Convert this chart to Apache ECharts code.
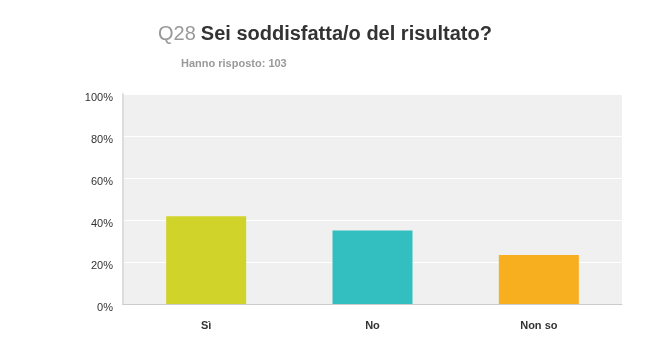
<!DOCTYPE html>
<html><head><meta charset="utf-8">
<script src="https://cdn.jsdelivr.net/npm/echarts@6/dist/echarts.min.js"></script>
<style>html,body{margin:0;padding:0;background:#fff}#c{width:650px;height:360px}</style>
</head><body><div id="c"></div>
<script>
var categories = ['Sì', 'No', 'Non so'];
var values = [41.75, 34.95, 23.30];
var colors = ['#D0D42A', '#33BEBF', '#F7AF1F'];
var yTicks = [0, 20, 40, 60, 80, 100];

var chart = echarts.init(document.getElementById('c'));
chart.setOption({
  animation: false,
  title: [{
    text: '{q|Q28} {t|Sei soddisfatta/o del risultato?}',
    left: 153, top: 19,
    textStyle: {
      rich: {
        q: {fontFamily: 'Liberation Sans', fontSize: 20, color: '#999999', fontWeight: 'normal'},
        t: {fontFamily: 'Liberation Sans', fontSize: 20, color: '#333333', fontWeight: 'bold'}
      }
    }
  }, {
    text: 'Hanno risposto: 103',
    left: 176, top: 53,
    textStyle: {fontFamily: 'Liberation Sans', fontSize: 11, color: '#999999', fontWeight: 'bold'}
  }],
  grid: {left: 123, right: 28, top: 94, bottom: 56, show: true, backgroundColor: '#f0f0f0', borderWidth: 0},
  xAxis: {
    type: 'category', data: categories,
    axisLine: {lineStyle: {color: '#cccccc', width: 1}},
    axisTick: {show: false},
    axisLabel: {fontFamily: 'Liberation Sans', fontSize: 11, fontWeight: 'bold', color: '#333333', margin: 16}
  },
  yAxis: {
    type: 'value', min: 0, max: 100, interval: 20,
    axisLine: {show: true, lineStyle: {color: '#dddddd', width: 2}},
    axisTick: {show: false},
    splitLine: {lineStyle: {color: '#ffffff', width: 1}},
    axisLabel: {fontFamily: 'Liberation Sans', fontSize: 11, color: '#333333', margin: 10,
      verticalAlign: 'top', lineHeight: 8,
      formatter: function (v) { return yTicks.indexOf(v) >= 0 ? v + '%' : ''; }}
  },
  series: [{
    type: 'bar', barWidth: 80,
    data: values.map(function (v, i) { return {value: v, itemStyle: {color: colors[i]}}; })
  }]
});
</script></body></html>
